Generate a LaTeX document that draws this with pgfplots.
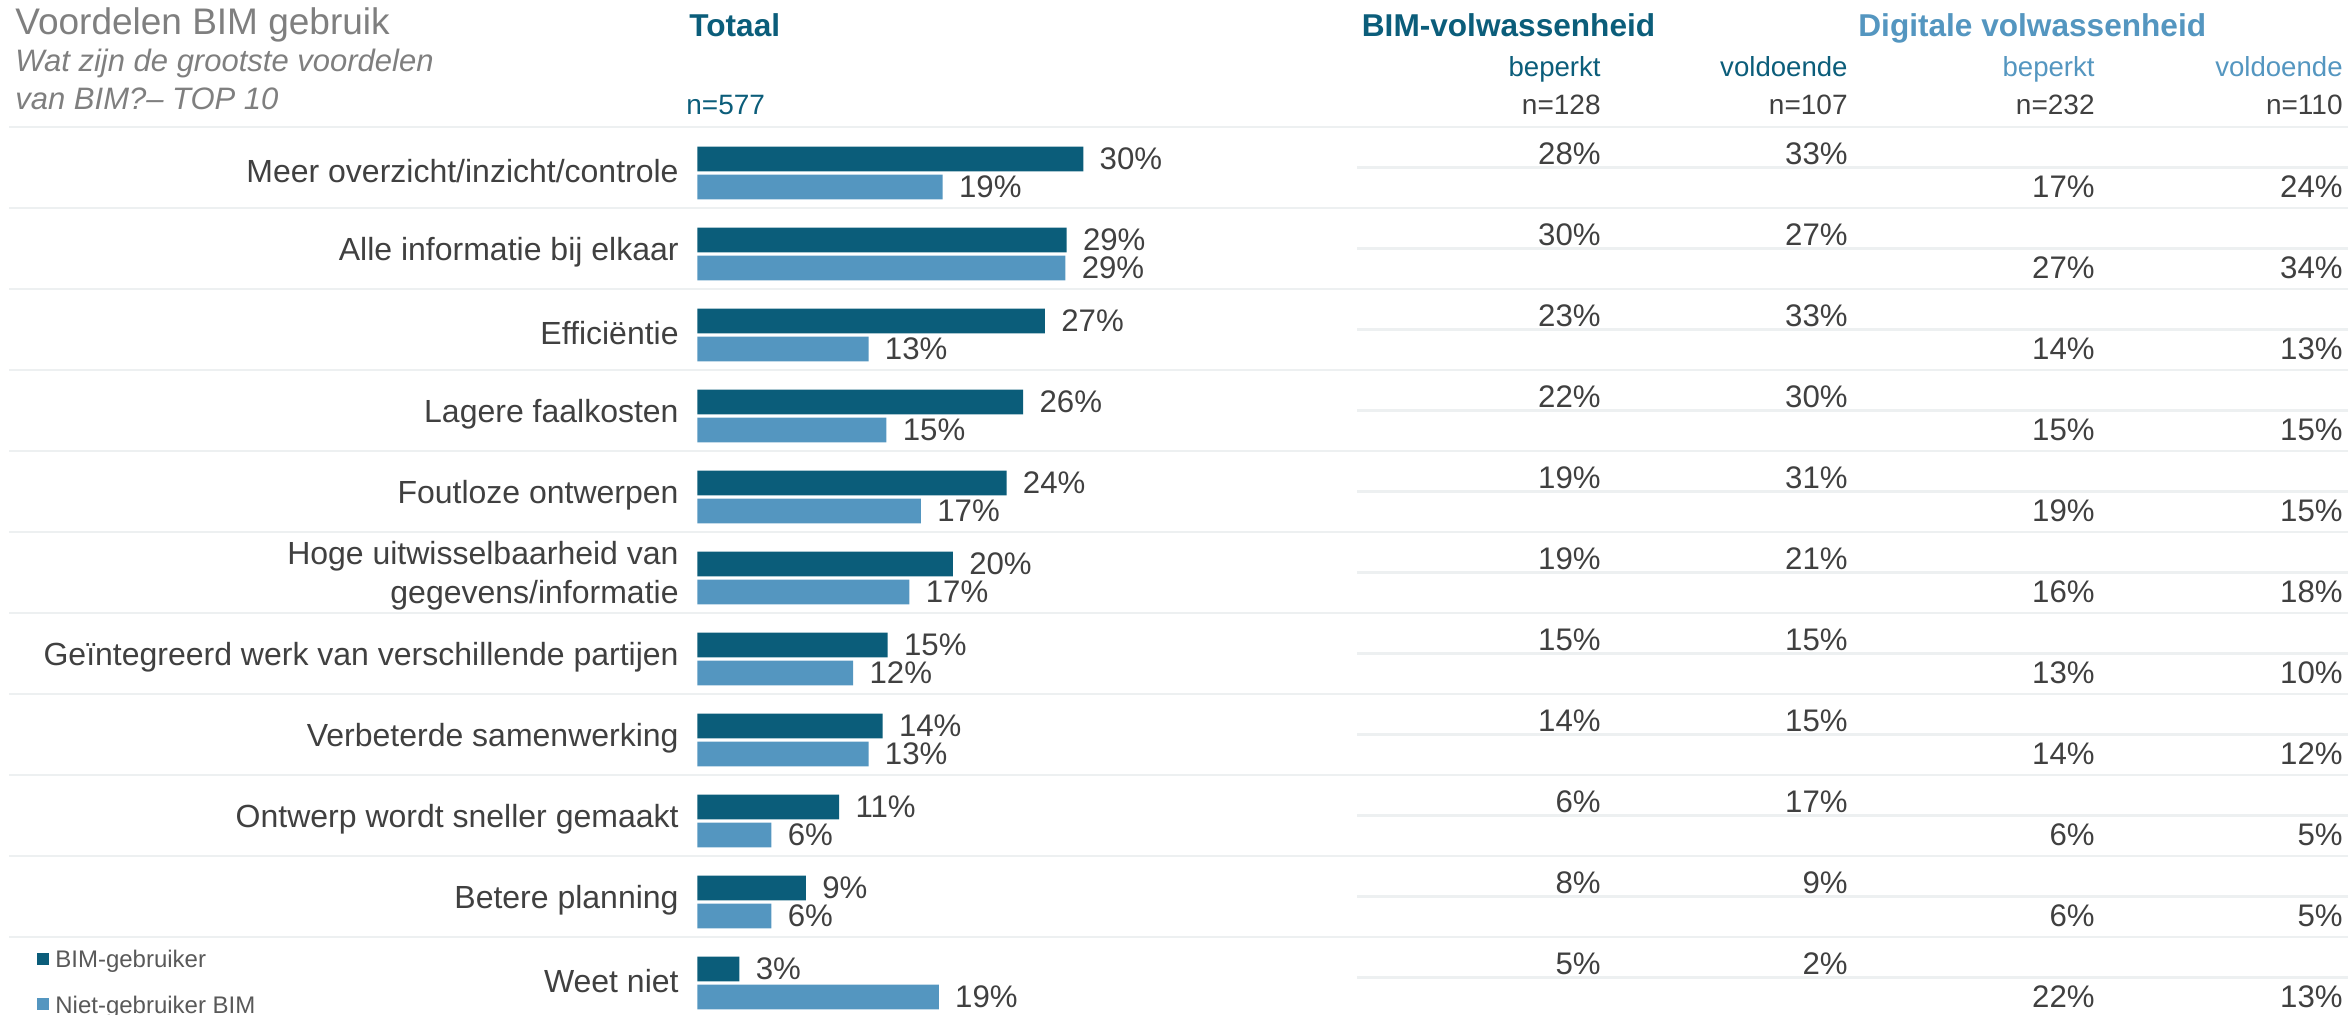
\documentclass[border=0pt]{standalone}
\usepackage{pgfplots}
\pgfplotsset{compat=1.18}
\usepackage{pgfplotstable}
\usepackage{fontspec}
\setmainfont{Liberation Sans}
\definecolor{bimdark}{HTML}{0B5D7A}
\definecolor{bimlight}{HTML}{5496C0}
\definecolor{titlegrey}{HTML}{7F7F7F}
\definecolor{txtgrey}{HTML}{404040}
\definecolor{leggrey}{HTML}{595959}
\definecolor{sepcol}{HTML}{EDF0F1}

\pgfplotstableread{
y dark light dlab llab
10 30.2 19.2 30 19
9 28.9 28.8 29 29
8 27.2 13.4 27 13
7 25.5 14.8 26 15
6 24.2 17.5 24 17
5 20.0 16.6 20 17
4 14.9 12.2 15 12
3 14.5 13.4 14 13
2 11.1 5.8 11 6
1 8.5 5.8 9 6
0 3.3 18.9 3 19
}\bars

\pgfplotstableread{
y bimb bimv digb digv
10 28 33 17 24
9 30 27 27 34
8 23 33 14 13
7 22 30 15 15
6 19 31 19 15
5 19 21 16 18
4 15 15 13 10
3 14 15 14 12
2 6 17 6 5
1 8 9 6 5
0 5 2 22 13
}\tab

\begin{document}
\begin{tikzpicture}
\useasboundingbox (0pt,0pt) rectangle (1174pt,507pt);

% ---------- full-width axis: separators and table ----------
\begin{axis}[at={(0pt,0pt)}, anchor=south west, scale only axis,
  width=1174pt, height=507pt,
  xmin=0, xmax=2348, ymin=-0.3827, ymax=12.1358,
  hide axis, clip=false,
  tabval/.style={draw=none, mark=none,
    nodes near coords={\pgfplotspointmeta\%}, point meta=explicit symbolic,
    every node near coord/.style={anchor=east, inner sep=0pt,
      font=\fontsize{15.6}{19}\selectfont, text=txtgrey}}]
 \pgfplotsinvokeforeach{0,...,10}{
   \draw[sepcol, line width=1.4pt] (axis cs:9,{#1+0.568}) -- (axis cs:2348,{#1+0.568});
   \draw[sepcol, line width=1.4pt] (axis cs:1357,{#1+0.065}) -- (axis cs:2348,{#1+0.065});
 }
 \addplot[tabval, every node near coord/.append style={yshift=9.5pt}]
   table[x expr=1601, y=y, meta=bimb]{\tab};
 \addplot[tabval, every node near coord/.append style={yshift=9.5pt}]
   table[x expr=1848, y=y, meta=bimv]{\tab};
 \addplot[tabval, every node near coord/.append style={yshift=-6.9pt}]
   table[x expr=2095, y=y, meta=digb]{\tab};
 \addplot[tabval, every node near coord/.append style={yshift=-6.9pt}]
   table[x expr=2343, y=y, meta=digv]{\tab};
\end{axis}

% ---------- bar axis ----------
\begin{axis}[at={(348.65pt,0pt)}, anchor=south west, scale only axis,
  width=255.6pt, height=507pt,
  xmin=0, xmax=40, ymin=-0.3827, ymax=12.1358, clip=false,
  xbar, bar width=12.4pt,
  axis line style={draw=none}, xtick=\empty, ytick={0,...,10},
  major tick length=0pt, ytick style={draw=none},
  yticklabels={Weet niet, Betere planning, Ontwerp wordt sneller gemaakt,
    Verbeterde samenwerking, Geïntegreerd werk van verschillende partijen,
    {Hoge uitwisselbaarheid van\\gegevens/informatie}, Foutloze ontwerpen,
    Lagere faalkosten, Efficiëntie, Alle informatie bij elkaar,
    Meer overzicht/inzicht/controle},
  yticklabel style={anchor=east, align=right, inner sep=0pt, xshift=-9.15pt,
    yshift=1pt, font=\fontsize{16}{19.5}\selectfont, text=txtgrey},
  nodes near coords={\pgfplotspointmeta\%}, point meta=explicit symbolic,
  every node near coord/.append style={anchor=west, inner sep=0pt, xshift=8pt,
    font=\fontsize{15.6}{19}\selectfont, text=txtgrey},
  legend style={at={(axis description cs:-1.2917,-0.0025)}, anchor=south west,
    draw=none, fill=none, inner sep=0pt,
    font=\fontsize{12}{14.4}\selectfont, text=leggrey, row sep=12.5pt,
    nodes={inner sep=0pt},
    /tikz/every odd column/.append style={column sep=3pt}},
  legend cell align=left,
  legend image code/.code={\fill[#1, draw=none] (0pt,-2pt) rectangle (6pt,4pt);}]
\addplot[fill=bimdark, draw=none, bar shift=7pt] table[x=dark, y=y, meta=dlab]{\bars};
\addplot[fill=bimlight, draw=none, bar shift=-7pt] table[x=light, y=y, meta=llab]{\bars};
\legend{BIM-gebruiker, Niet-gebruiker BIM}
\end{axis}

% ---------- titles and headers ----------
\node[anchor=base west, inner sep=0pt, text=titlegrey, font=\fontsize{18.5}{22}\selectfont]
  at (7.5pt,489.8pt) {Voordelen BIM gebruik};
\node[anchor=base west, inner sep=0pt, text=titlegrey, font=\fontsize{15.5}{18}\selectfont\itshape]
  at (7.5pt,471pt) {Wat zijn de grootste voordelen};
\node[anchor=base west, inner sep=0pt, text=titlegrey, font=\fontsize{15.5}{18}\selectfont\itshape]
  at (7.5pt,452.2pt) {van BIM?– TOP 10};

\node[anchor=base west, inner sep=0pt, text=bimdark, font=\fontsize{15.8}{19}\selectfont\bfseries]
  at (344.5pt,488.6pt) {Totaal};
\node[anchor=base west, inner sep=0pt, text=bimdark, font=\fontsize{14}{17}\selectfont]
  at (343pt,449.5pt) {n=577};

\node[anchor=base west, inner sep=0pt, text=bimdark, font=\fontsize{15.8}{19}\selectfont\bfseries]
  at (680.75pt,488.6pt) {BIM-volwassenheid};
\node[anchor=base west, inner sep=0pt, text=bimlight, font=\fontsize{15.8}{19}\selectfont\bfseries]
  at (929pt,488.6pt) {Digitale volwassenheid};

\node[anchor=base east, inner sep=0pt, text=bimdark, font=\fontsize{13.8}{16}\selectfont]
  at (800.5pt,468.75pt) {beperkt};
\node[anchor=base east, inner sep=0pt, text=bimdark, font=\fontsize{13.8}{16}\selectfont]
  at (924pt,468.75pt) {voldoende};
\node[anchor=base east, inner sep=0pt, text=bimlight, font=\fontsize{13.8}{16}\selectfont]
  at (1047.5pt,468.75pt) {beperkt};
\node[anchor=base east, inner sep=0pt, text=bimlight, font=\fontsize{13.8}{16}\selectfont]
  at (1171.5pt,468.75pt) {voldoende};

\node[anchor=base east, inner sep=0pt, text=txtgrey, font=\fontsize{14}{17}\selectfont]
  at (800.5pt,449.5pt) {n=128};
\node[anchor=base east, inner sep=0pt, text=txtgrey, font=\fontsize{14}{17}\selectfont]
  at (924pt,449.5pt) {n=107};
\node[anchor=base east, inner sep=0pt, text=txtgrey, font=\fontsize{14}{17}\selectfont]
  at (1047.5pt,449.5pt) {n=232};
\node[anchor=base east, inner sep=0pt, text=txtgrey, font=\fontsize{14}{17}\selectfont]
  at (1171.5pt,449.5pt) {n=110};
\end{tikzpicture}
\end{document}
